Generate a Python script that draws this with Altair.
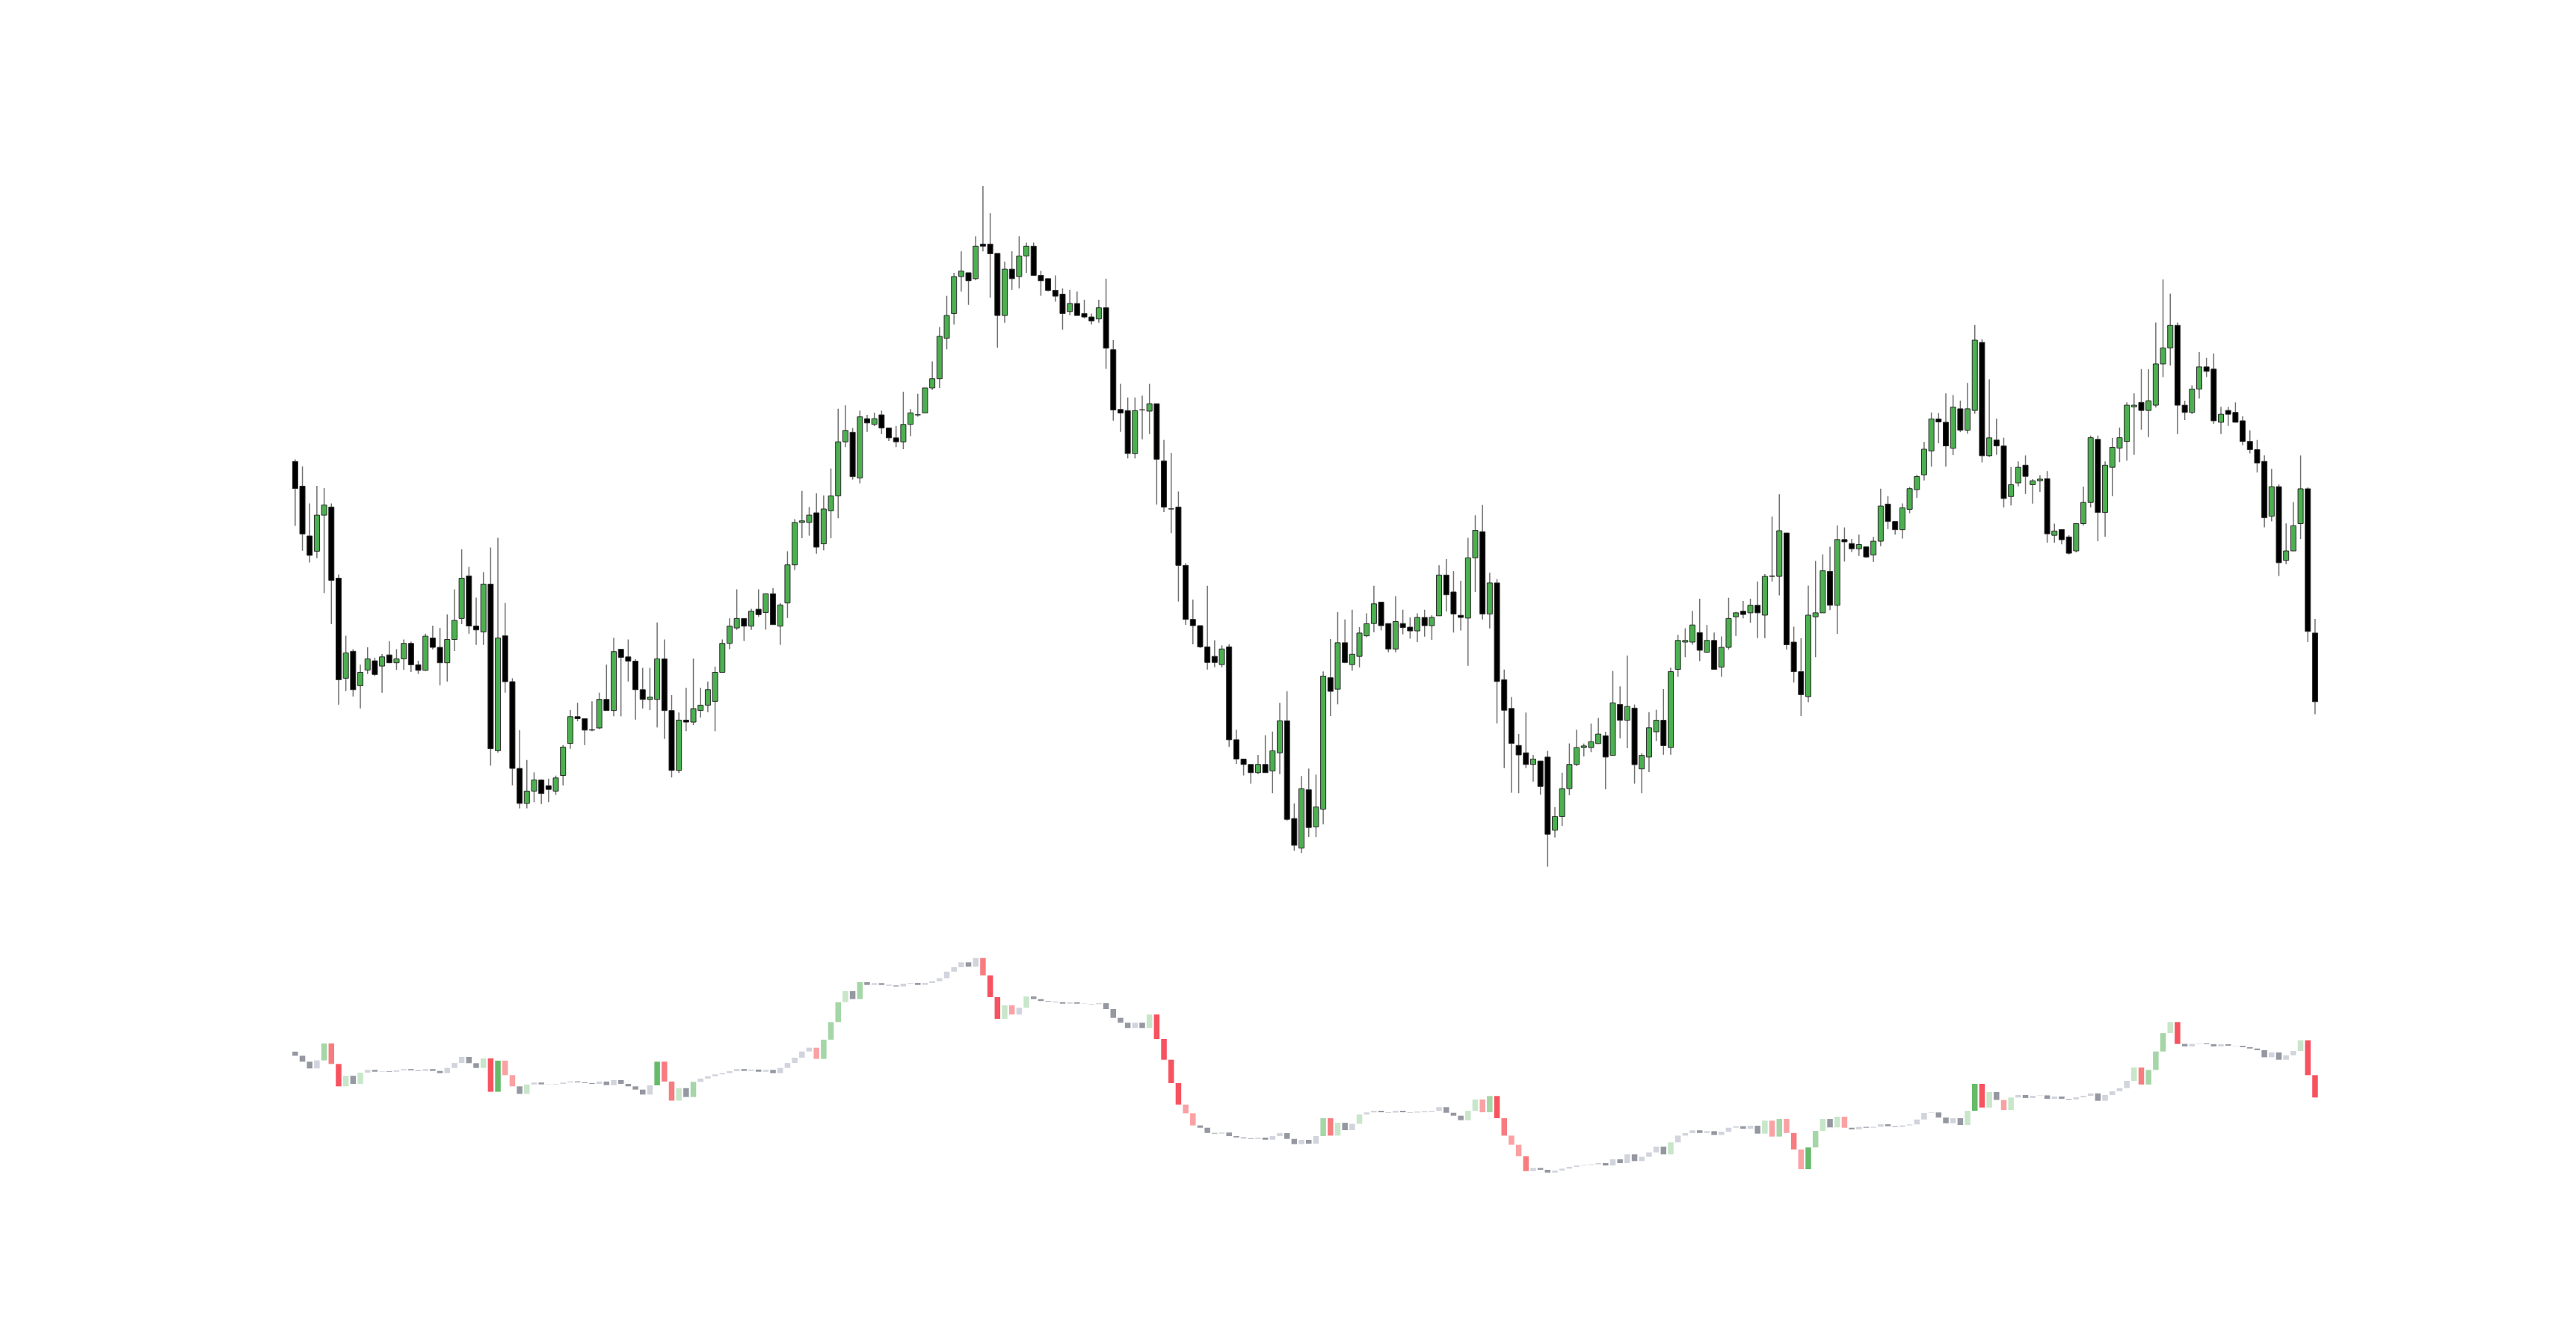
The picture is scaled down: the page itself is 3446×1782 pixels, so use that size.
import altair as alt
import pandas as pd

# ---------------- candle data (arbitrary price units) ----------------
opens = [530.1,515.1,484.8,475.5,497.5,502.4,459.1,398.2,414.6,393.6,
403.2,408.8,405.6,412.4,407.6,410.0,419.4,406.4,403.0,422.7,
417.0,407.6,421.8,434.6,460.4,430.0,426.4,455.5,354.1,424.0,
396.1,343.3,322.0,329.5,336.3,332.8,329.5,339.0,358.5,374.8,
373.6,366.6,367.9,385.3,378.5,415.8,411.2,408.6,391.2,385.3,
385.3,410.0,378.5,342.1,372.7,371.5,378.6,381.8,384.1,401.8,
419.4,428.8,434.6,429.9,440.2,438.2,449.6,429.9,444.0,467.2,
493.0,493.0,498.9,480.0,500.1,509.2,542.1,547.9,520.1,556.2,
552.7,558.5,550.5,544.5,542.1,552.7,558.5,559.7,574.9,580.5,
605.2,620.2,642.7,645.0,641.4,662.4,662.4,656.8,619.0,647.2,
642.7,655.2,661.2,643.4,641.4,634.3,632.0,621.4,626.3,620.2,
618.1,616.9,623.7,598.2,561.8,561.1,535.0,561.5,560.8,565.3,
530.4,501.2,502.4,466.9,434.0,430.2,417.3,411.5,406.5,417.3,
360.7,349.0,345.7,340.7,345.7,341.8,352.8,372.3,312.8,294.8,
330.3,307.8,318.5,398.5,391.5,419.8,406.5,411.5,424.0,431.5,
444.5,431.5,416.0,431.5,429.3,427.0,435.2,430.2,436.2,461.0,
450.7,436.5,434.8,471.5,487.4,437.3,456.2,397.3,379.8,357.3,
352.8,345.7,347.8,350.2,305.7,314.0,331.0,345.7,356.0,356.0,
358.4,363.2,351.2,382.2,372.6,380.0,343.0,350.2,365.6,372.6,
356.0,403.6,420.2,420.2,426.0,414.0,421.2,405.0,417.0,435.6,
439.0,438.0,442.6,436.6,460.2,460.2,486.6,420.2,402.2,387.0,
435.6,438.0,463.2,442.6,482.6,480.2,477.0,478.2,473.2,481.6,
504.2,493.6,488.6,501.0,513.0,522.0,536.6,556.0,554.0,538.2,
562.2,549.2,561.2,602.6,533.6,543.2,539.6,508.8,517.1,527.9,
516.0,518.4,519.6,485.2,488.7,484.2,475.7,492.3,505.2,543.6,
499.1,526.6,538.3,542.3,563.4,566.1,561.2,564.4,589.5,599.2,
613.0,564.4,560.0,574.2,587.7,586.4,554.0,561.2,560.0,554.9,
542.3,537.4,530.2,496.8,514.8,469.9,475.7,492.3,513.5,425.7]

closes = [513.7,486.0,473.0,497.5,503.6,457.8,397.3,413.6,391.2,401.8,
410.0,400.5,411.2,407.6,410.0,419.4,406.4,403.0,423.8,417.0,
407.6,421.8,433.4,459.1,430.0,427.6,455.5,355.3,422.7,396.1,
343.3,322.0,329.5,336.3,328.0,330.5,337.5,356.3,374.8,373.6,
366.6,366.9,385.3,378.5,414.4,410.9,408.6,391.2,385.3,386.7,
410.0,378.5,342.1,372.7,371.5,379.7,381.8,391.2,401.8,419.4,
429.9,434.6,429.9,439.0,436.9,449.6,430.8,442.8,467.2,493.0,
494.0,497.5,478.0,501.2,509.2,542.1,549.0,520.9,557.3,553.6,
556.2,550.5,544.5,542.1,552.7,559.7,558.6,574.9,580.5,606.3,
619.0,642.7,646.0,640.1,661.2,661.2,656.6,619.0,647.2,641.4,
655.2,661.2,643.4,640.1,634.3,630.8,620.2,626.3,619.0,618.1,
615.7,623.7,599.1,561.5,559.6,535.0,561.1,561.6,565.3,531.5,
502.4,501.3,466.9,434.0,430.2,417.3,407.8,407.8,416.0,360.7,
349.0,345.7,340.7,345.7,340.7,354.0,372.3,312.3,296.5,331.0,
307.3,319.8,399.5,390.2,419.8,407.8,412.8,425.7,431.4,443.5,
430.2,416.0,432.7,429.0,427.0,435.2,430.2,435.2,461.0,449.0,
437.3,435.2,471.5,488.2,437.3,456.2,396.2,378.7,358.5,351.5,
345.7,349.0,332.3,303.2,314.0,331.0,345.7,356.0,357.0,359.6,
364.2,350.2,383.2,372.6,381.0,345.6,351.2,368.0,372.6,357.2,
402.2,421.2,421.2,430.6,415.2,421.2,403.6,417.0,434.6,438.0,
437.0,442.6,438.0,460.2,460.4,488.0,418.6,402.2,388.2,436.6,
438.0,463.6,442.6,482.6,481.2,477.0,479.6,472.0,481.6,503.0,
493.6,488.6,502.0,513.6,521.0,537.6,556.0,554.2,539.6,563.2,
549.2,562.2,604.0,533.6,544.5,539.6,507.6,516.0,526.6,521.1,
518.4,519.4,486.1,487.8,482.5,474.3,492.3,505.2,544.6,499.1,
527.9,538.7,544.6,564.4,564.4,561.2,567.1,589.5,599.2,613.0,
564.4,560.0,574.2,587.7,585.0,554.9,558.9,558.9,554.0,542.3,
537.4,529.2,495.9,514.8,468.5,475.7,491.0,513.5,426.7,383.9]

highs = [531.5,527.1,504.6,515.3,514.0,504.6,461.4,424.1,415.9,406.4,
417.0,410.6,412.9,420.8,415.9,421.8,420.5,408.8,425.3,430.2,
428.8,437.0,452.3,476.7,466.0,447.3,462.8,477.8,483.7,444.0,
398.2,366.6,348.4,340.9,336.6,337.1,338.9,357.5,378.8,383.3,
373.6,384.1,389.4,406.5,422.8,415.8,421.8,409.9,404.5,404.5,
432.1,421.8,387.9,377.3,392.4,410.2,392.4,396.2,405.3,421.8,
434.6,452.3,434.6,440.5,452.3,449.6,453.1,444.0,475.5,495.0,
512.2,502.4,510.7,509.5,525.9,562.3,564.3,550.5,561.1,558.5,
559.9,561.1,550.5,551.7,572.6,562.0,571.4,574.9,591.1,612.0,
631.0,645.0,658.1,645.0,667.2,697.7,681.3,656.8,651.8,658.1,
667.2,663.4,663.4,646.2,641.4,643.4,635.5,634.6,633.6,628.6,
620.2,628.6,641.4,604.0,577.4,569.1,569.1,570.2,577.4,565.3,
543.3,535.3,511.9,468.2,446.0,430.2,454.4,421.3,418.2,418.8,
366.8,349.0,345.7,351.5,363.5,365.7,383.2,390.3,322.0,338.7,
343.2,339.5,402.3,422.0,438.5,434.0,439.9,429.3,437.7,454.4,
444.5,431.5,448.2,439.9,435.3,437.7,439.9,436.5,467.0,470.7,
463.4,457.5,483.7,497.4,503.7,462.4,458.5,403.5,386.8,364.3,
377.3,351.5,347.8,354.0,319.8,340.7,358.5,366.8,358.4,370.6,
374.0,365.6,402.6,393.2,412.0,382.2,352.6,377.6,379.0,391.6,
404.6,424.6,428.6,439.2,446.6,430.6,426.0,423.6,447.2,438.6,
445.2,446.6,457.0,461.6,496.6,510.2,486.6,429.6,422.6,454.6,
469.6,473.6,478.2,491.2,490.0,483.0,485.6,478.2,484.2,513.6,
509.0,493.6,504.6,514.6,522.0,542.0,560.0,559.6,571.6,570.6,
567.2,578.0,613.2,604.6,580.1,556.3,544.6,526.8,530.2,533.8,
519.4,521.8,524.3,492.3,488.7,485.2,492.3,514.8,545.9,545.9,
530.2,544.5,550.8,566.1,571.6,586.4,586.4,614.7,641.0,632.3,
614.7,567.1,576.5,596.7,593.2,595.9,563.4,563.4,566.1,557.6,
549.1,543.2,533.8,525.7,516.2,492.4,505.4,533.8,514.4,434.3]

lows = [491.0,475.8,468.7,471.3,450.0,431.1,382.1,390.4,387.1,379.8,
400.8,399.5,389.4,407.3,403.3,403.3,402.0,400.8,402.7,415.8,
393.9,396.2,414.7,431.1,425.3,418.5,418.5,345.0,353.0,389.4,
333.0,319.0,319.0,322.7,321.6,322.7,327.2,333.0,355.3,372.0,
357.5,365.9,367.2,378.5,375.0,375.0,396.2,373.0,379.8,378.8,
368.2,361.3,337.8,340.6,365.9,369.7,374.2,377.6,365.9,415.9,
415.9,427.6,420.8,427.6,435.6,427.8,430.8,418.5,434.9,464.0,
483.4,485.0,474.0,476.0,483.4,495.6,538.8,519.1,516.8,548.2,
551.7,546.8,542.6,538.8,537.6,545.6,557.4,559.7,573.7,574.9,
598.4,613.5,633.6,625.5,640.4,658.1,629.8,599.4,614.6,634.6,
635.5,645.0,643.4,631.0,633.6,627.5,610.4,619.2,619.0,617.2,
613.5,614.6,586.5,555.0,548.2,532.0,532.0,543.6,546.8,503.9,
499.4,486.5,444.9,430.7,418.8,416.5,403.5,404.8,404.8,356.5,
346.0,339.0,334.0,339.8,340.7,328.2,339.8,311.5,293.2,291.8,
301.5,301.5,309.3,375.2,382.3,407.3,402.8,404.8,423.2,426.2,
427.3,414.0,414.0,424.9,422.3,420.2,423.5,421.5,436.2,438.7,
426.0,427.3,405.7,450.7,434.0,428.5,370.7,343.5,328.5,328.2,
343.5,335.2,327.3,283.5,301.2,308.2,327.0,344.8,350.6,353.2,
358.4,330.6,351.2,361.6,355.6,334.0,328.2,341.0,360.0,351.6,
351.6,399.0,411.0,418.6,408.6,413.6,403.6,399.0,415.6,424.0,
434.6,432.0,422.6,422.6,457.0,448.6,415.6,395.6,375.2,383.6,
411.0,438.0,439.6,425.2,469.2,475.0,472.6,471.6,469.0,478.6,
489.0,485.6,483.2,498.6,508.0,518.6,527.0,541.2,527.0,534.0,
548.0,547.0,559.2,529.6,532.9,534.2,502.2,503.4,515.0,510.4,
504.5,511.7,480.7,480.7,479.7,473.5,474.8,491.2,502.2,481.6,
484.3,509.0,529.7,530.6,534.2,549.5,545.0,563.0,581.5,588.6,
546.8,555.3,559.0,568.4,581.5,553.1,546.8,551.8,554.0,540.0,
535.1,523.4,490.1,493.7,460.4,467.6,475.7,482.9,420.3,376.3]

# ---------------- lower indicator (waterfall from previous value) ----------------
lower_start = 170.9
lower = [168.4,164.8,160.7,165.6,175.9,163.4,149.8,156.2,151.3,158.1,
159.8,158.7,159.0,158.7,159.5,160.3,159.5,159.2,160.3,159.2,
157.8,161.0,164.0,167.7,163.9,161.0,166.8,146.5,165.4,156.6,
149.8,145.2,150.9,152.1,151.0,150.9,151.3,152.1,152.8,152.2,
151.8,151.3,152.7,150.5,153.6,151.3,149.8,147.8,144.8,150.4,
164.8,152.7,141.1,148.7,143.3,152.5,154.5,155.9,157.1,157.8,
159.0,160.3,159.2,160.0,158.7,159.8,157.8,161.0,164.0,167.2,
171.0,173.3,166.5,178.2,188.9,201.0,207.7,202.9,213.2,211.5,
212.6,211.5,211.2,210.6,212.3,212.7,211.5,212.7,213.8,215.6,
219.6,222.3,225.3,222.6,227.9,217.3,204.1,190.9,199.1,193.5,
197.6,204.5,202.9,201.7,201.3,201.0,200.1,200.9,200.1,200.0,
199.8,200.4,196.8,191.5,188.5,185.3,188.5,185.3,193.5,178.6,
166.0,151.8,138.7,133.4,126.0,124.6,121.4,121.0,121.7,119.5,
118.7,118.2,117.8,118.6,117.3,119.5,121.3,117.8,114.6,117.2,
114.9,119.5,130.4,119.8,127.6,123.1,127.0,132.7,133.9,134.9,
134.0,133.8,134.9,134.0,133.8,134.5,134.2,134.9,137.1,133.7,
131.9,129.2,134.9,141.8,134.0,143.9,130.4,119.8,114.2,107.2,
98.2,100.1,99.0,97.3,98.5,99.7,100.8,101.6,101.9,102.3,
103.1,101.6,105.4,103.1,108.4,104.3,106.9,109.6,113.1,108.4,
115.7,119.8,121.3,123.0,121.4,122.5,120.2,122.2,124.6,125.5,
124.0,125.8,121.0,128.9,119.2,129.9,121.4,111.4,99.4,112.6,
122.6,129.9,124.8,131.3,124.6,123.6,125.1,124.6,125.2,126.7,
125.5,125.1,126.0,126.6,129.6,133.6,133.9,130.8,127.3,130.4,
126.3,134.9,151.3,136.9,146.3,141.5,135.4,143.0,144.5,142.7,
144.0,144.3,142.2,143.6,142.2,141.8,143.1,144.0,145.5,141.0,
144.5,146.8,148.7,153.1,161.2,150.9,159.8,171.0,182.2,188.9,
175.6,174.1,175.6,175.9,175.4,174.1,175.4,174.5,174.4,173.6,
172.8,171.8,167.5,170.4,166.0,168.7,171.3,177.8,156.6,143.0]

lower_tone = ("D D D LG MG MR R LGn D LGn "
"LG D LG D LG LG D D LG D "
"D LG LG LG D D LGn R Gn LR "
"LR D LGn LG D D LG LG LG D "
"D D LG D LG D D D D LG "
"Gn MR MR LGn D MG LG LG LG LG "
"LG LG D LG D LG D LG LG LG "
"LG LG LR MG MG MG LGn D MG D "
"LG D D D LG LG D LG LG LG "
"LG LG LG D LG MR R R LGn LR "
"LG LGn D D D D D LG D D "
"D LG D D D D LG D LGn R "
"R R R LR LR D D D LG D "
"D D D LG D LG LG D D LG "
"D LG MG MR LGn D LG LGn LG LG "
"D D LG D D LG D LG LG D "
"D D LGn LGn LR MG R MR LR LR "
"MR LG D D LG LG LG LG LG LG "
"LG D LG D LG D LG LG LG D "
"LGn LG LG LG D LG D LG LG LG "
"D LG D LGn LR MG LR MR LR Gn "
"MG LGn D LGn LR D LG D LG LG "
"D D LG LG LG LG LG D D LG "
"D LGn Gn R LGn D LR LGn LG D "
"LG LG D LG D D LG LG LG D "
"LG LG LG LG LGn MR MG MG MG LGn "
"R D LG LG D D LG D D D "
"D D D LG D LG LG LGn R R").split()

tone_names = ["D", "LG", "LGn", "MG", "Gn", "LR", "MR", "R"]
tone_colors = ["#9598a1", "#d1d4dc", "#c8e6c9", "#a5d6a7", "#66bb6a",
               "#faa1a4", "#f77c80", "#f7525f"]

n = len(opens)
candles = pd.DataFrame({
    "i": list(range(n)),
    "open": opens, "close": closes, "high": highs, "low": lows,
})
candles["dir"] = ["up" if c >= o else "down" for o, c in zip(opens, closes)]

ind = pd.DataFrame({
    "i": list(range(n)),
    "prev": [lower_start] + lower[:-1],
    "cur": lower,
    "tone": lower_tone,
})

W = 3430
xscale = alt.Scale(domain=[-39.43, 313.7], nice=False, zero=False)
xenc = alt.X("i:Q", scale=xscale, axis=None)

ytop = alt.Scale(domain=[265.05, 807.4], nice=False, zero=False)
ybot = alt.Scale(domain=[83.07, 246.85], nice=False, zero=False)

wicks = alt.Chart(candles).mark_rule(color="#707070", strokeWidth=1.5).encode(
    x=xenc,
    y=alt.Y("low:Q", scale=ytop, axis=None),
    y2="high:Q",
)
bodies = alt.Chart(candles).mark_bar(size=7, stroke="#2a2a2a", strokeWidth=1).encode(
    x=xenc,
    y=alt.Y("open:Q", scale=ytop, axis=None),
    y2="close:Q",
    color=alt.Color("dir:N", scale=alt.Scale(domain=["up", "down"],
                                             range=["#4caf50", "#000000"]), legend=None),
)
top = alt.layer(wicks, bodies).properties(width=W, height=1192)

bottom = alt.Chart(ind).mark_bar(size=7.5).encode(
    x=xenc,
    y=alt.Y("prev:Q", scale=ybot, axis=None),
    y2="cur:Q",
    color=alt.Color("tone:N", scale=alt.Scale(domain=tone_names, range=tone_colors),
                    legend=None),
).properties(width=W, height=360)

chart = alt.vconcat(top, bottom, spacing=40).resolve_scale(
    color="independent", y="independent"
).properties(
    padding=0, background="#ffffff"
).configure_view(strokeWidth=0)

chart.save("out.html", embed_options={"renderer": "svg", "actions": False})
